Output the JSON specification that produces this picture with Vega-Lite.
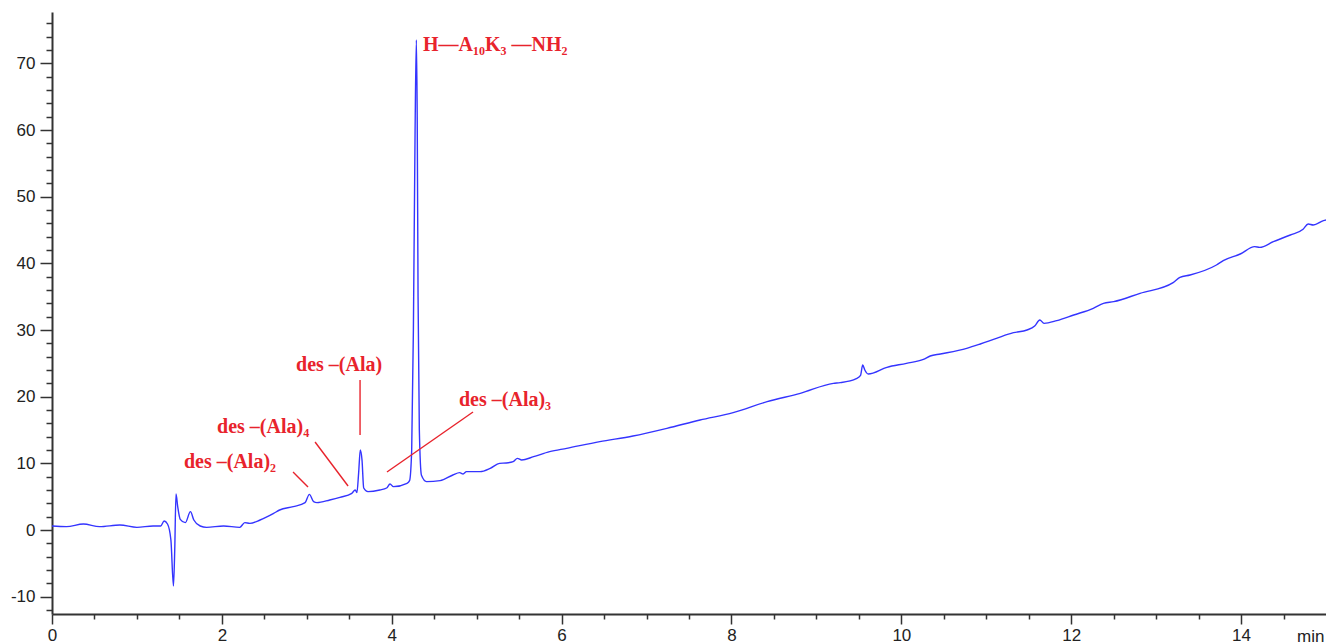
{
  "$schema": "https://vega.github.io/schema/vega-lite/v6.json",
  "width": 1274,
  "height": 602,
  "autosize": {"type": "none"},
  "padding": {"left": 52, "top": 12, "right": 0, "bottom": 30},
  "background": "white",
  "config": {"view": {"stroke": null}},
  "datasets": {
    "trace": [
      {"t": 0, "v": 0.6}, {"t": 0.17, "v": 0.5}, {"t": 0.37, "v": 0.9}, {"t": 0.56, "v": 0.5}, {"t": 0.8, "v": 0.75},
      {"t": 1.0, "v": 0.4}, {"t": 1.19, "v": 0.6}, {"t": 1.28, "v": 0.6}, {"t": 1.32, "v": 1.35}, {"t": 1.36, "v": 0.9},
      {"t": 1.40, "v": -1.5}, {"t": 1.43, "v": -8.4}, {"t": 1.445, "v": -3}, {"t": 1.46, "v": 5.4}, {"t": 1.48, "v": 3.5},
      {"t": 1.51, "v": 1.6}, {"t": 1.57, "v": 1.1}, {"t": 1.63, "v": 2.75}, {"t": 1.67, "v": 1.5}, {"t": 1.745, "v": 0.6},
      {"t": 1.82, "v": 0.4}, {"t": 2.02, "v": 0.6}, {"t": 2.21, "v": 0.4}, {"t": 2.27, "v": 1.1}, {"t": 2.33, "v": 1.0},
      {"t": 2.45, "v": 1.5}, {"t": 2.61, "v": 2.5}, {"t": 2.68, "v": 3.0}, {"t": 2.84, "v": 3.5}, {"t": 2.98, "v": 4.1},
      {"t": 3.03, "v": 5.35}, {"t": 3.08, "v": 4.25}, {"t": 3.12, "v": 4.1}, {"t": 3.27, "v": 4.5}, {"t": 3.39, "v": 4.9},
      {"t": 3.53, "v": 5.5}, {"t": 3.57, "v": 6.0}, {"t": 3.59, "v": 5.6}, {"t": 3.61, "v": 8.5}, {"t": 3.63, "v": 12.0},
      {"t": 3.65, "v": 10.5}, {"t": 3.67, "v": 6.3}, {"t": 3.72, "v": 5.75}, {"t": 3.86, "v": 6.0}, {"t": 3.94, "v": 6.3},
      {"t": 3.98, "v": 6.9}, {"t": 4.02, "v": 6.5}, {"t": 4.18, "v": 7.0}, {"t": 4.21, "v": 7.4}, {"t": 4.235, "v": 12},
      {"t": 4.255, "v": 30}, {"t": 4.275, "v": 60}, {"t": 4.29, "v": 73.5}, {"t": 4.30, "v": 62}, {"t": 4.31, "v": 35},
      {"t": 4.325, "v": 15}, {"t": 4.35, "v": 8.2}, {"t": 4.41, "v": 7.25}, {"t": 4.57, "v": 7.4}, {"t": 4.72, "v": 8.25},
      {"t": 4.80, "v": 8.6}, {"t": 4.84, "v": 8.4}, {"t": 4.88, "v": 8.75}, {"t": 5.04, "v": 8.75}, {"t": 5.16, "v": 9.25},
      {"t": 5.27, "v": 10.0}, {"t": 5.35, "v": 10.05}, {"t": 5.43, "v": 10.25}, {"t": 5.48, "v": 10.75}, {"t": 5.53, "v": 10.5},
      {"t": 5.67, "v": 11.0}, {"t": 5.86, "v": 11.75}, {"t": 6.06, "v": 12.25}, {"t": 6.45, "v": 13.25}, {"t": 6.84, "v": 14.1},
      {"t": 7.24, "v": 15.25}, {"t": 7.63, "v": 16.5}, {"t": 8.02, "v": 17.6}, {"t": 8.42, "v": 19.25}, {"t": 8.81, "v": 20.5},
      {"t": 9.20, "v": 22.0}, {"t": 9.28, "v": 22.1}, {"t": 9.47, "v": 22.7}, {"t": 9.52, "v": 23.2}, {"t": 9.545, "v": 24.75},
      {"t": 9.57, "v": 24.0}, {"t": 9.61, "v": 23.4}, {"t": 9.83, "v": 24.4}, {"t": 10.06, "v": 25.0}, {"t": 10.26, "v": 25.6},
      {"t": 10.34, "v": 26.1}, {"t": 10.46, "v": 26.4}, {"t": 10.77, "v": 27.25}, {"t": 10.93, "v": 27.9}, {"t": 11.12, "v": 28.75},
      {"t": 11.32, "v": 29.6}, {"t": 11.48, "v": 30.0}, {"t": 11.57, "v": 30.6}, {"t": 11.63, "v": 31.5}, {"t": 11.68, "v": 31.0},
      {"t": 11.83, "v": 31.4}, {"t": 12.03, "v": 32.25}, {"t": 12.26, "v": 33.25}, {"t": 12.38, "v": 34.0}, {"t": 12.50, "v": 34.25},
      {"t": 12.81, "v": 35.5}, {"t": 13.20, "v": 37.1}, {"t": 13.28, "v": 37.9}, {"t": 13.40, "v": 38.25}, {"t": 13.71, "v": 39.75},
      {"t": 13.79, "v": 40.4}, {"t": 13.99, "v": 41.4}, {"t": 14.16, "v": 42.5}, {"t": 14.22, "v": 42.4}, {"t": 14.38, "v": 43.25},
      {"t": 14.58, "v": 44.25}, {"t": 14.73, "v": 45.1}, {"t": 14.79, "v": 45.9}, {"t": 14.85, "v": 45.75}, {"t": 14.97, "v": 46.4},
      {"t": 15.0, "v": 46.5}
    ],
    "pointers": [
      {"t1": 3.627, "v1": 22.5, "t2": 3.627, "v2": 14.25},
      {"t1": 3.097, "v1": 13.2, "t2": 3.486, "v2": 6.6},
      {"t1": 2.838, "v1": 8.7, "t2": 3.014, "v2": 6.45},
      {"t1": 4.957, "v1": 17.7, "t2": 3.944, "v2": 8.7}
    ],
    "labels": [
      {"t": 4.368, "v": 72.75, "label": "H—A₁₀K₃ —NH₂"},
      {"t": 2.873, "v": 24.75, "label": "des –(Ala)"},
      {"t": 1.943, "v": 15.45, "label": "des –(Ala)₄"},
      {"t": 1.554, "v": 10.2, "label": "des –(Ala)₂"},
      {"t": 4.792, "v": 19.5, "label": "des –(Ala)₃"}
    ]
  },
  "resolve": {"axis": {"x": "independent", "y": "independent"}},
  "layer": [
    {
      "data": {"name": "trace"},
      "mark": {"type": "line", "color": "#3434ff", "strokeWidth": 1.4, "clip": true, "interpolate": "monotone"},
      "encoding": {
        "x": {
          "field": "t", "type": "quantitative",
          "scale": {"domain": [0, 15], "nice": false, "zero": false},
          "axis": {
            "orient": "bottom",
            "values": [0, 2, 4, 6, 8, 10, 12, 14],
            "labelExpr": "'' + datum.value",
            "tickSize": 10,
            "labelPadding": 3,
            "labelFont": "Liberation Sans", "labelFontSize": 17, "labelColor": "#222222",
            "domainColor": "#333333", "domainWidth": 2, "tickColor": "#333333", "tickWidth": 1.5,
            "grid": false, "labelFlush": false, "labelOverlap": false,
            "title": "min", "titleAnchor": "end", "titleAlign": "right", "titleBaseline": "alphabetic",
            "titleX": 1272, "titleY": 27, "titleFont": "Liberation Sans", "titleFontSize": 17,
            "titleFontWeight": "normal", "titleColor": "#222222"
          }
        },
        "y": {
          "field": "v", "type": "quantitative",
          "scale": {"domain": [-12.6, 77.7], "nice": false, "zero": false},
          "axis": {
            "orient": "left",
            "values": [-10, 0, 10, 20, 30, 40, 50, 60, 70],
            "labelExpr": "'' + datum.value",
            "tickSize": 12,
            "labelPadding": 5,
            "labelFont": "Liberation Sans", "labelFontSize": 17, "labelColor": "#222222",
            "domainColor": "#333333", "domainWidth": 2, "tickColor": "#333333", "tickWidth": 1.5,
            "grid": false, "labelFlush": false, "labelOverlap": false,
            "title": null
          }
        }
      }
    },
    {
      "data": {"name": "pointers"},
      "mark": {"type": "rule", "color": "#e8232c", "strokeWidth": 1.4},
      "encoding": {
        "x": {
          "field": "t1", "type": "quantitative",
          "scale": {"domain": [0, 15], "nice": false, "zero": false},
          "axis": {
            "orient": "bottom",
            "values": [0.5, 1, 1.5, 2.5, 3, 3.5, 4.5, 5, 5.5, 6.5, 7, 7.5, 8.5, 9, 9.5, 10.5, 11, 11.5, 12.5, 13, 13.5, 14.5],
            "labels": false, "domain": false, "tickSize": 5,
            "tickColor": "#333333", "tickWidth": 1.5, "grid": false, "title": null
          }
        },
        "y": {
          "field": "v1", "type": "quantitative",
          "scale": {"domain": [-12.6, 77.7], "nice": false, "zero": false},
          "axis": {
            "orient": "left",
            "values": [-12, -8, -6, -4, -2, 2, 4, 6, 8, 12, 14, 16, 18, 22, 24, 26, 28, 32, 34, 36, 38, 42, 44, 46, 48, 52, 54, 56, 58, 62, 64, 66, 68, 72, 74, 76],
            "labels": false, "domain": false, "tickSize": 6,
            "tickColor": "#333333", "tickWidth": 1.5, "grid": false, "title": null
          }
        },
        "x2": {"field": "t2"},
        "y2": {"field": "v2"}
      }
    },
    {
      "data": {"name": "labels"},
      "mark": {"type": "text", "align": "left", "baseline": "middle", "font": "Liberation Serif", "fontWeight": "bold", "fontSize": 20, "color": "#e8232c"},
      "encoding": {
        "x": {"field": "t", "type": "quantitative", "axis": null},
        "y": {"field": "v", "type": "quantitative", "axis": null},
        "text": {"field": "label"}
      }
    }
  ]
}
